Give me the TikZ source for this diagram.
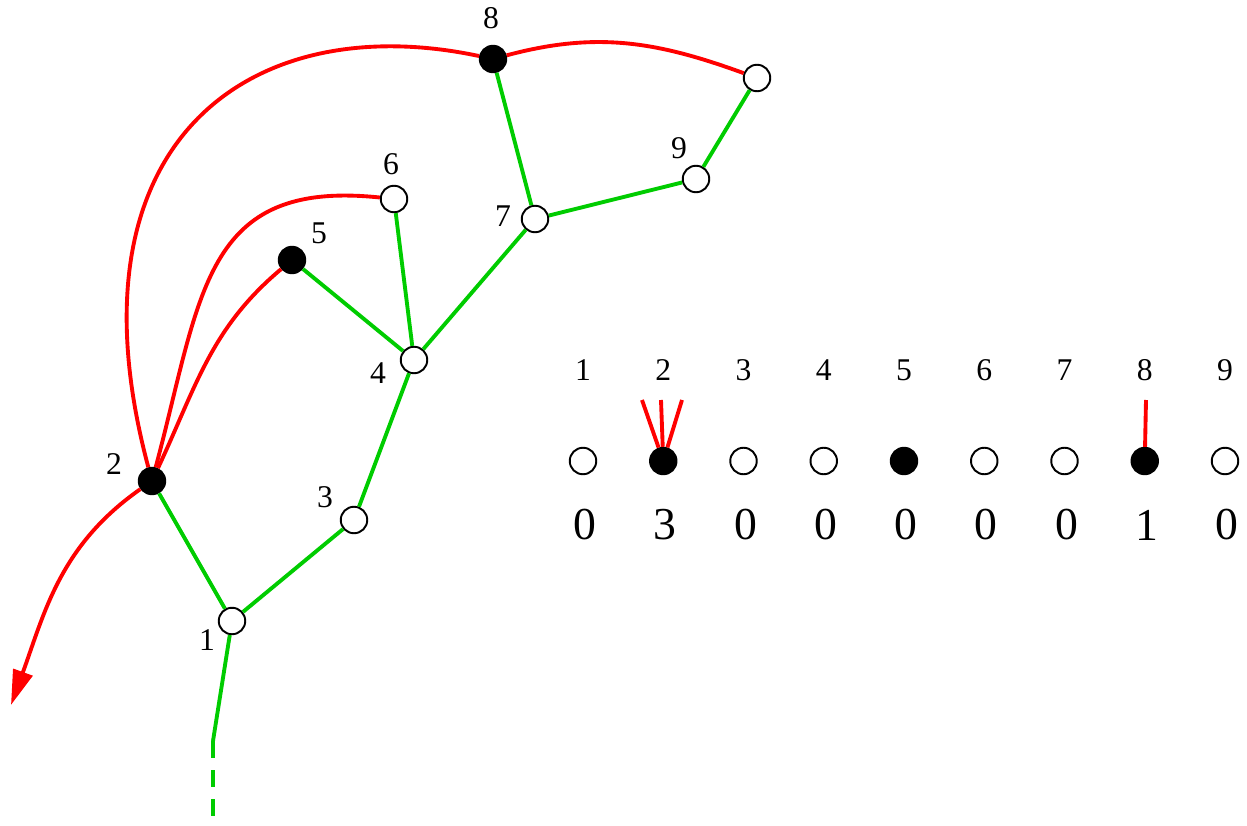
\documentclass[tikz,border=0pt]{standalone}
\usepackage{fontspec}
\setmainfont{Liberation Serif}
\usetikzlibrary{arrows.meta}
\definecolor{treegreen}{RGB}{0,204,0}
\definecolor{backred}{RGB}{255,0,0}
\begin{document}
\begin{tikzpicture}[
  wnode/.style={circle, draw=black, fill=white, line width=1.1pt, inner sep=0pt, minimum size=5.3mm},
  bnode/.style={wnode, fill=black},
  tedge/.style={line width=2.2pt, draw=treegreen},
  bedge/.style={line width=2.2pt, draw=backred},
  nlabel/.style={font=\fontsize{18}{21}\selectfont, inner sep=1pt},
  cnt/.style={font=\fontsize{26}{30}\selectfont, inner sep=1pt}
]
  % marco fijo con las proporciones de la figura
  \useasboundingbox (0,0) rectangle (24.94,16.5);

  % Arbol
  \node[wnode] (n1) at (4.64, 4.08) {};
  \node[bnode] (n2) at (3.04, 6.88) {};
  \node[wnode] (n3) at (7.08, 6.10) {};
  \node[wnode] (n4) at (8.28, 9.30) {};
  \node[bnode] (n5) at (5.84, 11.30) {};
  \node[wnode] (n6) at (7.88, 12.52) {};
  \node[wnode] (n7) at (10.70, 12.12) {};
  \node[bnode] (n8) at (9.86, 15.32) {};
  \node[wnode] (n9) at (13.92, 12.92) {};
  \node[wnode] (n10) at (15.14, 14.94) {};

  % Etiquetas
  \node[nlabel] (l1) at (4.14, 3.70) {1};
  \node[nlabel] (l2) at (2.28, 7.22) {2};
  \node[nlabel] (l3) at (6.50, 6.56) {3};
  \node[nlabel] (l4) at (7.56, 9.04) {4};
  \node[nlabel] (l5) at (6.38, 11.84) {5};
  \node[nlabel] (l6) at (7.82, 13.22) {6};
  \node[nlabel] (l7) at (10.06, 12.18) {7};
  \node[nlabel] (l8) at (9.82, 16.14) {8};
  \node[nlabel] (l9) at (13.58, 13.54) {9};

  \coordinate (stem) at (4.26, 1.68);
  \coordinate (root) at (4.26, 0);
  \coordinate (esc) at (0.22, 2.40);

  % Aristas del arbol
  \draw[tedge] (n1) -- (n2);
  \draw[tedge] (n1) -- (n3) -- (n4) -- (n7) -- (n9) -- (n10);
  \draw[tedge] (n4) -- (n5);
  \draw[tedge] (n4) -- (n6);
  \draw[tedge] (n7) -- (n8);
  \draw[tedge] (n1) -- (stem);
  \draw[tedge, dash pattern=on 0.34cm off 0.24cm] (stem) -- (root);

  % Aristas de retroceso
  \draw[bedge] (n2) .. controls (1.23, 13.64) and (4.97, 16.36) .. (n8);
  \draw[bedge] (n8) to[out=15, in=160] (n10);
  \draw[bedge] (n2) to[out=75, in=174, looseness=1.3] (n6);
  \draw[bedge] (n2) to[out=65, in=220] (n5);
  \draw[bedge, -{Triangle[length=7mm, width=4mm]}] (n2) to[out=215, in=70] (esc);

  % Fila de contadores
  \foreach \f/\c [count=\i] in {wnode/0, bnode/3, wnode/0, wnode/0, bnode/0, wnode/0, wnode/0, bnode/1, wnode/0} {
    \node[\f] (r\i) at ({11.66+1.605*(\i-1)}, 7.28) {};
    \node[nlabel] (h\i) at ({11.66+1.605*(\i-1)}, 9.10) {\i};
    \node[cnt] (c\i) at ({11.70+1.605*(\i-1)}, 6.00) {\c};
  }

  \coordinate (k2a) at (12.84, 8.50);
  \coordinate (k2b) at (13.22, 8.50);
  \coordinate (k2c) at (13.64, 8.50);
  \coordinate (k8) at (22.92, 8.50);
  \draw[bedge] (k2a) -- (r2);
  \draw[bedge] (k2b) -- (r2);
  \draw[bedge] (k2c) -- (r2);
  \draw[bedge] (k8) -- (r8);
\end{tikzpicture}
\end{document}
